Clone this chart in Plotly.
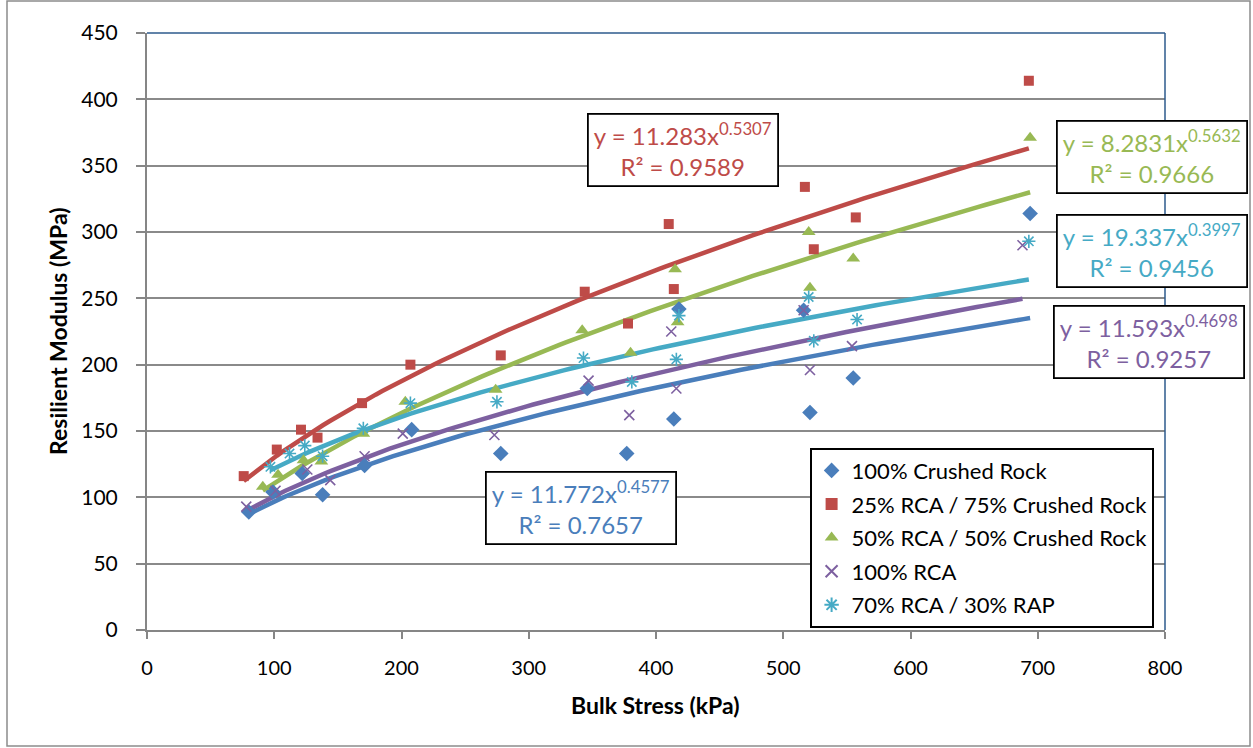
import numpy as np
import plotly.graph_objects as go

# ---- data ----
series_names = ["100% Crushed Rock", "25% RCA / 75% Crushed Rock",
                "50% RCA / 50% Crushed Rock", "100% RCA", "70% RCA / 30% RAP"]

cr100_x = [80, 99, 122, 138, 171, 208, 278, 346, 377, 414, 418, 516, 521, 555, 694]
cr100_y = [89, 104, 118, 102, 124, 151, 133, 182, 133, 159, 242, 241, 164, 190, 314]

rca25_x = [76, 102, 121, 134, 169, 207, 278, 344, 378, 410, 414, 517, 524, 557, 693]
rca25_y = [116, 136, 151, 145, 171, 200, 207, 255, 231, 306, 257, 334, 287, 311, 414]

rca50_x = [91, 103, 123, 137, 170, 203, 274, 342, 380, 415, 417, 520, 521, 555, 694]
rca50_y = [108, 117, 128, 127, 148, 172, 181, 226, 209, 272, 232, 300, 258, 280, 371]

rca100_x = [78, 101, 126, 144, 171, 201, 273, 347, 379, 412, 416, 516, 521, 554, 688]
rca100_y = [93, 105, 121, 113, 131, 148, 147, 188, 162, 225, 182, 241, 196, 214, 290]

rap30_x = [97, 112, 124, 138, 170, 207, 275, 343, 381, 416, 418, 520, 524, 558, 693]
rap30_y = [123, 133, 139, 131, 152, 171, 172, 205, 187, 204, 237, 251, 218, 234, 293]

# power trendline coefficients (y = a x^b) and R² as printed
fit_a = [11.772, 11.283, 8.2831, 11.593, 19.337]
fit_b = [0.4577, 0.5307, 0.5632, 0.4698, 0.3997]
fit_a_txt = ["11.772", "11.283", "8.2831", "11.593", "19.337"]
fit_b_txt = ["0.4577", "0.5307", "0.5632", "0.4698", "0.3997"]
fit_r2_txt = ["0.7657", "0.9589", "0.9666", "0.9257", "0.9456"]

# ---- styling ----
colors = ["#4A7EBB", "#BE4B48", "#98B954", "#7D60A0", "#46AAC5"]
symbols = ["diamond", "square", "triangle-up", "x-thin-open", "asterisk-open"]
msizes = [12, 10, 12, 10, 11]
FONT = "Lato, 'Open Sans', sans-serif"

xs = [cr100_x, rca25_x, rca50_x, rca100_x, rap30_x]
ys = [cr100_y, rca25_y, rca50_y, rca100_y, rap30_y]

# plot area pixels: x 147..1165, y 33..630
W, H = 1253, 748
L, R, T, B = 147, 1165, 33, 630
def px(xp):
    return (xp - L) / (R - L)
def py(yp):
    return (B - yp) / (B - T)

fig = go.Figure()

# trendlines
for i in range(5):
    xx = np.linspace(min(xs[i]), max(xs[i]), 120)
    yy = fit_a[i] * xx ** fit_b[i]
    fig.add_trace(go.Scatter(x=xx, y=yy, mode="lines",
                             line=dict(color=colors[i], width=4.5),
                             showlegend=False, hoverinfo="skip"))

# markers
for i in range(5):
    marker = dict(symbol=symbols[i], size=msizes[i], color=colors[i])
    if "open" in symbols[i]:
        marker["line"] = dict(color=colors[i], width=1.6)
    else:
        marker["line"] = dict(width=0)
    fig.add_trace(go.Scatter(x=xs[i], y=ys[i], mode="markers", name=series_names[i],
                             legendgroup=series_names[i], marker=marker))

# equation boxes: (center px x, center px y) and series index
boxes = [(581, 508, 0), (683, 150, 1), (1152, 157, 2), (1149, 342, 3), (1152, 251, 4)]
for cx, cy, i in boxes:
    fig.add_annotation(
        xref="paper", yref="paper", x=px(cx), y=py(cy),
        xanchor="center", yanchor="middle",
        text=f"y = {fit_a_txt[i]}x<sup>{fit_b_txt[i]}</sup><br>R² = {fit_r2_txt[i]}",
        showarrow=False, align="center",
        font=dict(family=FONT, size=24, color=colors[i]),
        bgcolor="white", bordercolor="black", borderwidth=1.8,
        width=184, height=66, borderpad=2,
    )

# axis titles
fig.add_annotation(xref="paper", yref="paper", x=px(58), y=py(331),
                   xanchor="center", yanchor="middle",
                   text="<b>Resilient Modulus (MPa)</b>", textangle=-90,
                   showarrow=False, font=dict(family=FONT, size=23, color="black"))
fig.add_annotation(xref="paper", yref="paper", x=px(655), y=py(705),
                   xanchor="center", yanchor="middle",
                   text="<b>Bulk Stress (kPa)</b>",
                   showarrow=False, font=dict(family=FONT, size=23, color="black"))

# plot-area top/right border and outer chart border
fig.add_shape(type="line", xref="paper", yref="paper", x0=0, x1=1, y0=1, y1=1,
              line=dict(color="#2C5A8C", width=1.5))
fig.add_shape(type="line", xref="paper", yref="paper", x0=1, x1=1, y0=0, y1=1,
              line=dict(color="#2C5A8C", width=1.5))
fig.add_shape(type="rect", xref="paper", yref="paper",
              x0=px(7), x1=px(1250), y0=py(746), y1=py(1),
              line=dict(color="#8C8C8C", width=1.5))

fig.update_xaxes(range=[0, 800], dtick=100, tick0=0, showgrid=False, zeroline=False,
                 showline=True, linecolor="#868686", linewidth=2,
                 ticks="outside", ticklen=7, tickcolor="#868686", tickwidth=1.5,
                 ticklabelstandoff=12,
                 tickfont=dict(family=FONT, size=20, color="black"))
fig.update_yaxes(range=[0, 450], dtick=50, tick0=0, showgrid=True,
                 gridcolor="#8A8A8A", gridwidth=1.5, zeroline=False,
                 showline=True, linecolor="#868686", linewidth=2,
                 ticks="outside", ticklen=9, tickcolor="#868686", tickwidth=1.5,
                 ticklabelstandoff=14,
                 tickfont=dict(family=FONT, size=21, color="black"))

fig.update_layout(
    width=W, height=H,
    margin=dict(l=L, r=W - R, t=T, b=H - B),
    plot_bgcolor="white", paper_bgcolor="white",
    font=dict(family=FONT, color="black"),
    legend=dict(x=px(810), y=py(448), xanchor="left", yanchor="top",
                bordercolor="black", borderwidth=1.6, bgcolor="white",
                font=dict(family=FONT, size=22, color="black"),
                itemsizing="constant", tracegroupgap=2, itemwidth=30),
    showlegend=True,
)

fig.write_html("out.html", config={"displayModeBar": False},
               post_script="document.body.style.margin='0';")
